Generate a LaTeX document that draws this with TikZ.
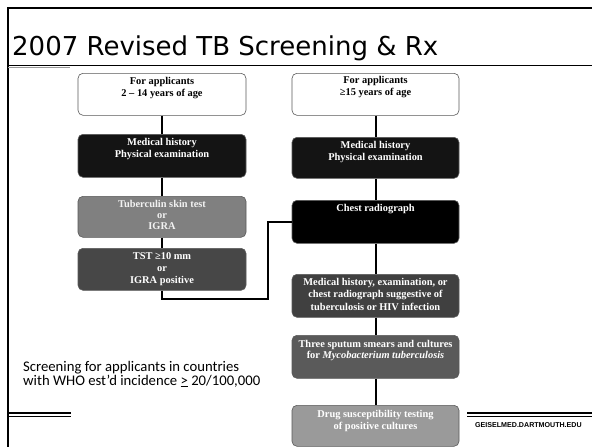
\documentclass[tikz,border=0pt]{standalone}
\usepackage{fontspec}
\setmainfont{Liberation Serif}
\newfontfamily\titlefont{DejaVu Sans}
\newfontfamily\calfont{Carlito}
\newfontfamily\footfont{Liberation Sans}
\definecolor{cLtwo}{HTML}{141414}
\definecolor{cLthree}{HTML}{808080}
\definecolor{cLfour}{HTML}{474747}
\definecolor{cD}{HTML}{404040}
\definecolor{cE}{HTML}{5A5A5A}
\definecolor{cF}{HTML}{9A9A9A}
\begin{document}
\begin{tikzpicture}[x=1pt,y=-1pt,
  box/.style={draw=black!65, line width=0.6pt, rounded corners=5pt, anchor=north, inner sep=0pt},
  lbox/.style={box, minimum width=168pt},
  rbox/.style={box, minimum width=167pt},
  txt/.style={anchor=north, inner sep=0pt, align=center, font=\fontsize{10.4}{12}\selectfont\bfseries},
  wtxt/.style={txt, text=white},
  conn/.style={line width=2pt}]
\useasboundingbox (0,0) rectangle (592,447);
\fill[white] (0,0) rectangle (592,447);
% frame
\draw[line width=2pt] (8,447) -- (8,8) -- (592,8);
\draw[line width=1pt] (8,65) -- (592,65);
\draw[black!40, line width=0.6pt] (8,67.5) -- (70,67.5);
\draw[line width=1.3pt] (8,413) -- (71,413);
\draw[line width=0.8pt] (8,416.5) -- (71,416.5);
\draw[line width=1.3pt] (467,413) -- (592,413);
\draw[line width=0.8pt] (467,416.5) -- (592,416.5);
% title
\node[anchor=base west, inner sep=0pt, font=\titlefont\fontsize{26}{30}\selectfont] (title) at (12,55) {2007 Revised TB Screening \& Rx};
% left column
\node[lbox, minimum height=42pt, fill=white] (L1) at (162,73) {};
\node[lbox, minimum height=43pt, fill=cLtwo] (L2) at (162,134) {};
\node[lbox, minimum height=41pt, fill=cLthree] (L3) at (162,196) {};
\node[lbox, minimum height=42pt, fill=cLfour] (L4) at (162,248) {};
% right column
\node[rbox, minimum height=42pt, fill=white] (A) at (375.5,73) {};
\node[rbox, minimum height=41pt, fill=cLtwo] (B) at (375.5,137) {};
\node[rbox, minimum height=43pt, fill=black] (C) at (375.5,200) {};
\node[rbox, minimum height=43pt, fill=cD] (D) at (375.5,274) {};
\node[rbox, minimum height=43pt, fill=cE] (E) at (375.5,335) {};
\node[rbox, minimum height=41pt, fill=cF] (F) at (375.5,405) {};
% texts
\node[txt] (L1t) at ([yshift=-4pt]L1.north) {For applicants\\2 -- 14 years of age};
\node[wtxt] (L2t) at ([yshift=-4pt]L2.north) {Medical history\\Physical examination};
\node[txt, text=black!5, font=\fontsize{10.4}{11}\selectfont\bfseries] (L3t) at ([yshift=-4pt]L3.north) {Tuberculin skin test\\or\\IGRA};
\node[wtxt] (L4t) at ([yshift=-4pt]L4.north) {TST ≥10 mm\\or\\IGRA positive};
\node[txt] (At) at ([yshift=-3pt]A.north) {For applicants\\≥15 years of age};
\node[wtxt] (Bt) at ([yshift=-4pt]B.north) {Medical history\\Physical examination};
\node[wtxt] (Ct) at ([yshift=-4pt]C.north) {Chest radiograph};
\node[wtxt, font=\fontsize{10.4}{12.5}\selectfont\bfseries] (Dt) at ([yshift=-4pt]D.north) {Medical history, examination, or\\chest radiograph suggestive of\\tuberculosis or HIV infection};
\node[wtxt, font=\fontsize{10.4}{11.5}\selectfont\bfseries] (Et) at ([yshift=-5pt]E.north) {Three sputum smears and cultures\\for \textit{Mycobacterium tuberculosis}};
\node[wtxt] (Ft) at ([yshift=-5pt]F.north) {Drug susceptibility testing\\of positive cultures};
% connectors
\draw[conn] (L1) -- (L2);
\draw[conn] (L2) -- (L3);
\draw[conn] (L3) -- (L4);
\coordinate (bend) at (268,299);
\draw[conn] (L4.south) |- (bend) |- (C.west);
\draw[conn] (A) -- (B);
\draw[conn] (B) -- (C);
\draw[conn] (C) -- (D);
\draw[conn] (D) -- (E);
\draw[conn] (E) -- (F);
% note
\node[anchor=base west, inner sep=0pt, align=left, font=\calfont\fontsize{14.7}{14}\selectfont] (note) at (23,385) {Screening for applicants in countries\\with WHO est’d incidence \underline{>} 20/100,000};
\node[anchor=base west, inner sep=0pt, font=\footfont\bfseries\fontsize{7.1}{8}\selectfont] (foot) at (475,427) {GEISELMED.DARTMOUTH.EDU};
\end{tikzpicture}
\end{document}
